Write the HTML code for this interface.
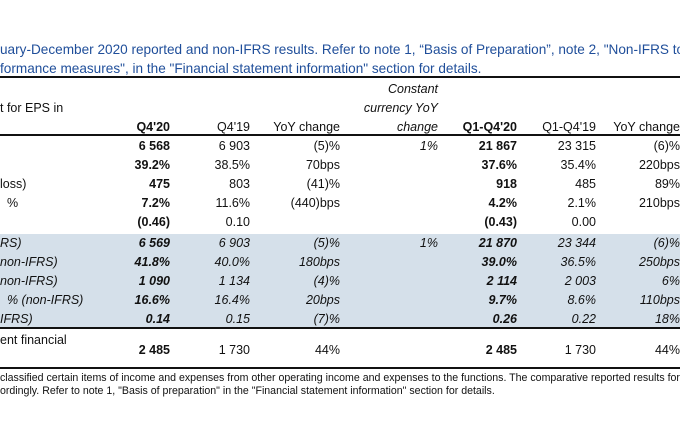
<!DOCTYPE html>
<html><head><meta charset="utf-8"><style>
body{margin:0;width:680px;height:440px;background:#fff;position:relative;overflow:hidden;font-family:"Liberation Sans",sans-serif;color:#111}
.t{position:absolute;white-space:nowrap;font-size:12.5px;line-height:14px}
.r{text-align:right}
.h{color:#1f4e9a;font-size:13.6px;line-height:16px}
.b{font-weight:bold}
.i{font-style:italic}
.ln{position:absolute;left:0;width:680px;background:#111}
.f{font-size:10.6px;line-height:13px}
</style></head><body>
<div style="position:absolute;left:0;top:234px;width:680px;height:94px;background:#d5e0ea"></div>
<div class="t h" style="left:0;top:42px;width:680px;overflow:hidden">uary-December 2020 reported and non-IFRS results. Refer to note 1, “Basis of Preparation”, note 2, "Non-IFRS to reported</div>
<div class="t h" style="left:0;top:61px">formance measures", in the "Financial statement information" section for details.</div>
<div class="ln" style="top:76px;height:2px"></div>
<div class="t" style="left:0;top:101px">t for EPS in</div>
<div class="t i r" style="right:242px;top:82px">Constant</div>
<div class="t i r" style="right:242px;top:101px">currency YoY</div>
<div class="t i r" style="right:242px;top:120px">change</div>
<div class="t b r" style="right:510px;top:120px">Q4'20</div>
<div class="t r" style="right:430px;top:120px">Q4'19</div>
<div class="t r" style="right:340px;top:120px">YoY change</div>
<div class="t b r" style="right:163px;top:120px">Q1-Q4'20</div>
<div class="t r" style="right:84px;top:120px">Q1-Q4'19</div>
<div class="t r" style="right:0px;top:120px">YoY change</div>
<div class="ln" style="top:134px;height:2px"></div>
<div id="rows"></div>
<script>
var rows=[
["",0,"6 568","6 903","(5)%","1%","21 867","23 315","(6)%",139],
["",0,"39.2%","38.5%","70bps","","37.6%","35.4%","220bps",158],
["loss)",0,"475","803","(41)%","","918","485","89%",177],
["&nbsp;&nbsp;%",0,"7.2%","11.6%","(440)bps","","4.2%","2.1%","210bps",196],
["",0,"(0.46)","0.10","","","(0.43)","0.00","",215],
["RS)",1,"6 569","6 903","(5)%","1%","21 870","23 344","(6)%",236],
["non-IFRS)",1,"41.8%","40.0%","180bps","","39.0%","36.5%","250bps",255],
["non-IFRS)",1,"1 090","1 134","(4)%","","2 114","2 003","6%",274],
["&nbsp;&nbsp;% (non-IFRS)",1,"16.6%","16.4%","20bps","","9.7%","8.6%","110bps",293],
["IFRS)",1,"0.14","0.15","(7)%","","0.26","0.22","18%",312],
["",0,"2 485","1 730","44%","","2 485","1 730","44%",343]];
var rr=[510,430,340,242,163,84,0],h="";
rows.forEach(function(r){var it=r[1]?" i":"";
h+='<div class="t'+it+'" style="left:0;top:'+r[9]+'px">'+r[0]+'</div>';
for(var k=0;k<7;k++){var v=r[2+k];if(!v)continue;var cls="t r"+it;if(k==0||k==4)cls+=" b";if(k==3)cls+=" i";
h+='<div class="'+cls+'" style="right:'+rr[k]+'px;top:'+r[9]+'px">'+v+'</div>';}});
document.getElementById('rows').innerHTML=h;
</script>
<div class="ln" style="top:327px;height:2px"></div>
<div class="t" style="left:0;top:333px">ent financial</div>
<div class="ln" style="top:367px;height:2px"></div>
<div class="t f" style="left:0;top:372px;width:680px;overflow:hidden">classified certain items of income and expenses from other operating income and expenses to the functions. The comparative reported results for Q</div>
<div class="t f" style="left:0;top:385px">ordingly. Refer to note 1, "Basis of preparation" in the "Financial statement information" section for details.</div>
</body></html>
